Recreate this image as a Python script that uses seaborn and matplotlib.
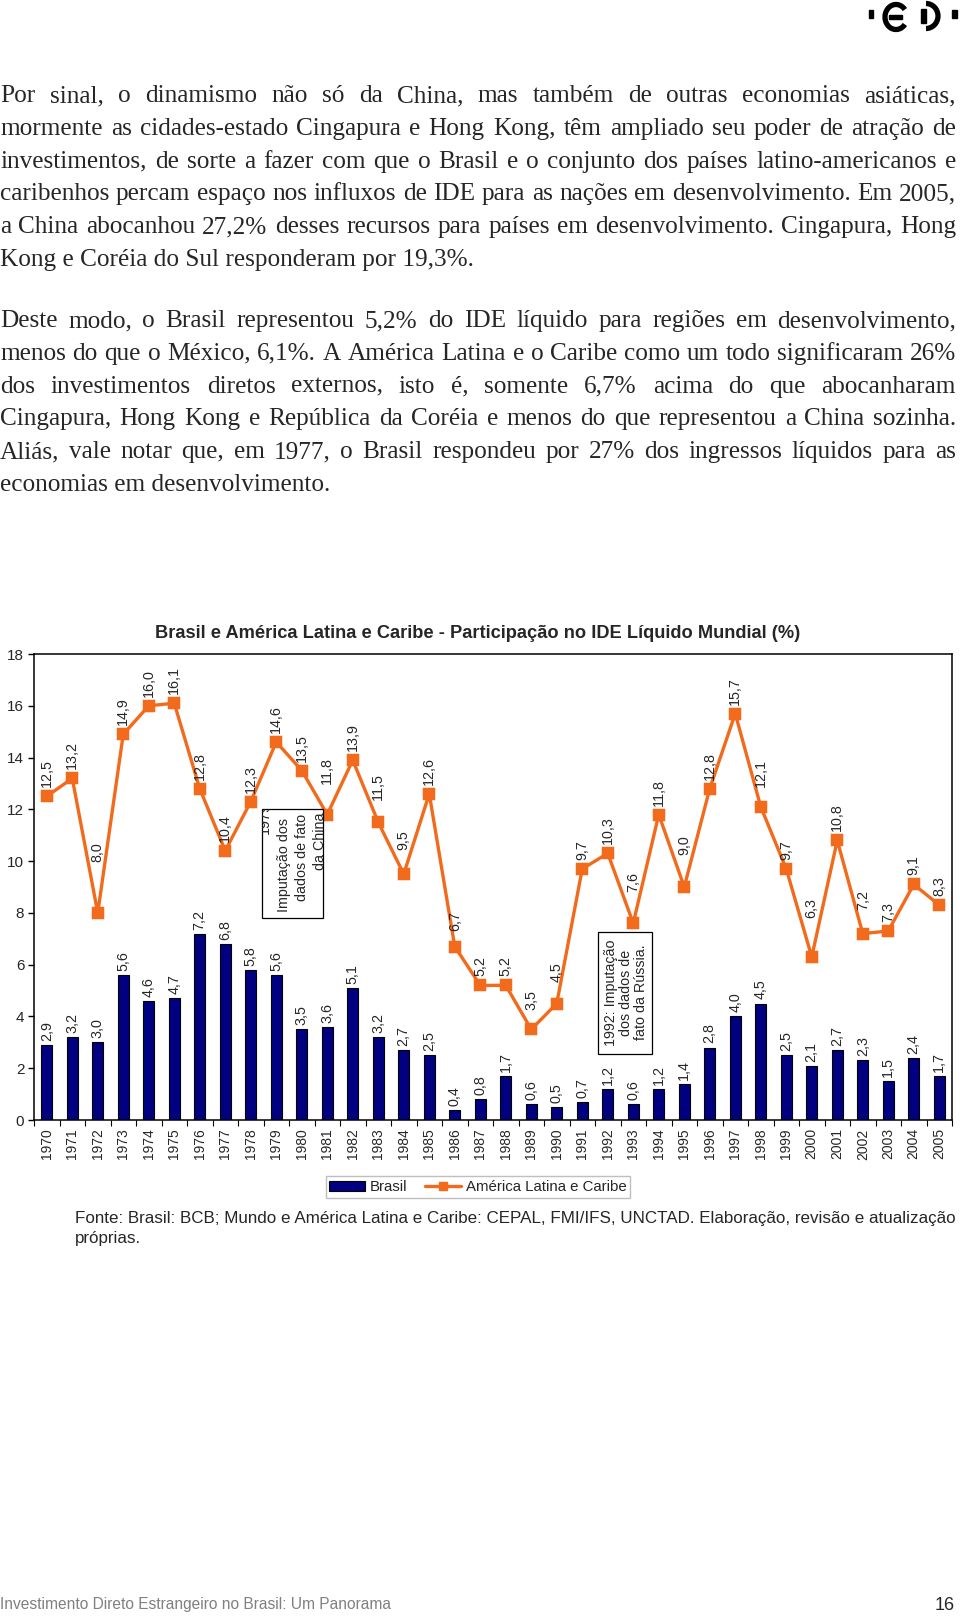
import matplotlib
matplotlib.use("Agg")
import matplotlib.pyplot as plt
from matplotlib.patches import Rectangle, Patch, Arc
from matplotlib.lines import Line2D
import pandas as pd
import seaborn as sns

# dados do grafico (% do IDE liquido mundial)
anos = ["1970", "1971", "1972", "1973", "1974", "1975", "1976", "1977", "1978", "1979",
        "1980", "1981", "1982", "1983", "1984", "1985", "1986", "1987", "1988", "1989",
        "1990", "1991", "1992", "1993", "1994", "1995", "1996", "1997", "1998", "1999",
        "2000", "2001", "2002", "2003", "2004", "2005"]
brasil = [2.9, 3.2, 3.0, 5.6, 4.6, 4.7, 7.2, 6.8, 5.8, 5.6,
          3.5, 3.6, 5.1, 3.2, 2.7, 2.5, 0.4, 0.8, 1.7, 0.6,
          0.5, 0.7, 1.2, 0.6, 1.2, 1.4, 2.8, 4.0, 4.5, 2.5,
          2.1, 2.7, 2.3, 1.5, 2.4, 1.7]
america_latina = [12.5, 13.2, 8.0, 14.9, 16.0, 16.1, 12.8, 10.4, 12.3, 14.6,
                  13.5, 11.8, 13.9, 11.5, 9.5, 12.6, 6.7, 5.2, 5.2, 3.5,
                  4.5, 9.7, 10.3, 7.6, 11.8, 9.0, 12.8, 15.7, 12.1, 9.7,
                  6.3, 10.8, 7.2, 7.3, 9.1, 8.3]

# rotulos da linha que foram afastados a mao no original (pixels extras)
label_lift = {"1972": 42, "1981": 22, "1983": 13, "1984": 15, "1986": 7,
              "1989": 10, "1990": 12, "1993": 22, "1995": 23, "1998": 11,
              "2000": 30, "2002": 15}

paragrafo1 = [
    "Por sinal, o dinamismo não só da China, mas também de outras economias asiáticas,",
    "mormente as cidades-estado Cingapura e Hong Kong, têm ampliado seu poder de atração de",
    "investimentos, de sorte a fazer com que o Brasil e o conjunto dos países latino-americanos e",
    "caribenhos percam espaço nos influxos de IDE para as nações em desenvolvimento. Em 2005,",
    "a China abocanhou 27,2% desses recursos para países em desenvolvimento. Cingapura, Hong",
    "Kong e Coréia do Sul responderam por 19,3%.",
]
paragrafo2 = [
    "Deste modo, o Brasil representou 5,2% do IDE líquido para regiões em desenvolvimento,",
    "menos do que o México, 6,1%. A América Latina e o Caribe como um todo significaram 26%",
    "dos investimentos diretos externos, isto é, somente 6,7% acima do que abocanharam",
    "Cingapura, Hong Kong e República da Coréia e menos do que representou a China sozinha.",
    "Aliás, vale notar que, em 1977, o Brasil respondeu por 27% dos ingressos líquidos para as",
    "economias em desenvolvimento.",
]

TITULO = "Brasil e América Latina e Caribe - Participação no IDE Líquido Mundial (%)"
FONTE = ["Fonte: Brasil: BCB; Mundo e América Latina e Caribe: CEPAL, FMI/IFS, UNCTAD. Elaboração, revisão e atualização",
         "próprias."]
RODAPE = "Investimento Direto Estrangeiro no Brasil: Um Panorama"

NAVY = "#000080"
ORANGE = "#f26a1b"
SERIF = ["Liberation Serif", "DejaVu Serif"]
SANS = ["Liberation Sans", "DejaVu Sans"]
W, H = 960, 1616

sns.set_style("white")
plt.rcParams["font.family"] = SANS

fig = plt.figure(figsize=(W / 100, H / 100), dpi=100)
renderer = fig.canvas.get_renderer()


def fy(y):
    return 1 - y / H


def justified(lines, first_baseline, size=18.2, step=32.8, width=956):
    for i, line in enumerate(lines):
        y = fy(first_baseline + i * step)
        if i == len(lines) - 1:
            fig.text(0, y, line, fontsize=size, family=SERIF, va="baseline")
            continue
        words = line.split()
        txts = [fig.text(0, y, w, fontsize=size, family=SERIF, va="baseline") for w in words]
        widths = [t.get_window_extent(renderer).width for t in txts]
        gap = (width - sum(widths)) / (len(words) - 1)
        x = 0
        for t, w in zip(txts, widths):
            t.set_x(x / W)
            x += w + gap


def fit_width(t, target):
    # a largura nao escala de forma exatamente linear (hinting), entao repete
    for _ in range(4):
        w = t.get_window_extent(renderer).width
        t.set_fontsize(t.get_fontsize() * target / w)


# texto da pagina
justified(paragrafo1, 102)
justified(paragrafo2, 327)

# logo
lg = fig.add_axes([820 / W, fy(45), 140 / W, 45 / H])
lg.set_xlim(820, 960)
lg.set_ylim(45, 0)
lg.axis("off")
lg.add_patch(Rectangle((869, 10), 4, 8, color="black"))
lg.add_patch(Arc((896, 17), 22, 25, theta1=40, theta2=320, lw=3.8, color="black"))
lg.add_patch(Rectangle((889, 15.3), 13, 4, color="black"))
lg.add_patch(Rectangle((920.5, 9), 5, 14, color="black"))
lg.add_patch(Arc((926, 16), 24, 25, theta1=-90, theta2=90, lw=3.8, color="black"))
lg.add_patch(Rectangle((952, 10), 4.5, 8, color="black"))

# grafico
df = pd.DataFrame({"ano": anos, "brasil": brasil, "alc": america_latina})
ax = fig.add_axes([34 / W, fy(1120), 918 / W, 466 / H])
sns.barplot(data=df, x="ano", y="brasil", color=NAVY, saturation=1, width=0.43,
            edgecolor="black", linewidth=0.8, ax=ax, zorder=2)
sns.pointplot(data=df, x="ano", y="alc", color=ORANGE, markers="s", markersize=7.5,
              linewidth=2.4, errorbar=None, ax=ax, zorder=3)

ax.set_xlim(-0.5, len(anos) - 0.5)
ax.set_ylim(0, 18)
ax.set_yticks(range(0, 19, 2))
ax.set_xlabel("")
ax.set_ylabel("")
for s in ax.spines.values():
    s.set_color("black")
    s.set_linewidth(1.1)
ax.tick_params(axis="y", length=4, width=1, pad=3, labelsize=11, left=True, color="black")
ax.tick_params(axis="x", which="major", length=0, pad=6, labelsize=10, labelrotation=90)
ax.set_xticks([i + 0.5 for i in range(-1, len(anos))], minor=True)
ax.tick_params(axis="x", which="minor", length=4, width=0.8, bottom=True, color="black")


def fmt(v):
    return f"{v:.1f}".replace(".", ",")


for i, (a, b, l) in enumerate(zip(anos, brasil, america_latina)):
    ax.annotate(fmt(b), (i, b), xytext=(0, 2.9), textcoords="offset points",
                rotation=90, ha="center", va="bottom", fontsize=10.3, zorder=4)
    lift = (9 + label_lift.get(a, 0)) * 0.72
    ax.annotate(fmt(l), (i, l), xytext=(0, lift), textcoords="offset points",
                rotation=90, ha="center", va="bottom", fontsize=10.3, zorder=4)

# notas
box1 = Rectangle((8.44, 7.8), 2.39, 4.2, facecolor="white", edgecolor="black",
                 lw=0.9, zorder=5)
ax.add_patch(box1)
for txt, x, y in [("1979:", 8.56, 11.75), ("Imputação dos", 9.30, 9.85),
                  ("dados de fato", 10.01, 10.15), ("da China", 10.72, 10.75)]:
    t = ax.text(x, y, txt, rotation=90, ha="center", va="center", fontsize=10.3,
                zorder=6, clip_on=True)
    t.set_clip_path(box1)

box2 = Rectangle((21.62, 2.55), 2.12, 4.71, facecolor="white", edgecolor="black",
                 lw=0.9, zorder=5)
ax.add_patch(box2)
ax.text(22.72, 4.92, "1992: Imputação\ndos dados de\nfato da Rússia.", rotation=90,
        ha="center", va="center", multialignment="center", fontsize=10.3,
        linespacing=1.1, zorder=6)

t = fig.text(478 / W, fy(634), TITULO, ha="center", va="center", fontsize=11.5,
             fontweight="bold")
fit_width(t, 647)

handles = [Patch(facecolor=NAVY, edgecolor="black", linewidth=0.8, label="Brasil"),
           Line2D([], [], color=ORANGE, lw=2.4, marker="s", markersize=6,
                  label="América Latina e Caribe")]
leg = fig.legend(handles=handles, loc="center", bbox_to_anchor=(478 / W, fy(1187)),
                 ncol=2, frameon=True, fancybox=False, fontsize=10.8,
                 edgecolor="#b0b0b0", borderpad=0.25, handlelength=2.4,
                 handletextpad=0.3, columnspacing=1.2)
leg.get_frame().set_linewidth(1)

f1 = fig.text(75 / W, fy(1218), FONTE[0], va="center", fontsize=11)
fit_width(f1, 878)
fig.text(75 / W, fy(1238), FONTE[1], va="center", fontsize=f1.get_fontsize())

r = fig.text(0, fy(1605), RODAPE, va="center", fontsize=11, color="#808080")
fit_width(r, 392)
fig.text(955 / W, fy(1605), "16", ha="right", va="center", fontsize=13)

fig.savefig("out.png", dpi=100)
